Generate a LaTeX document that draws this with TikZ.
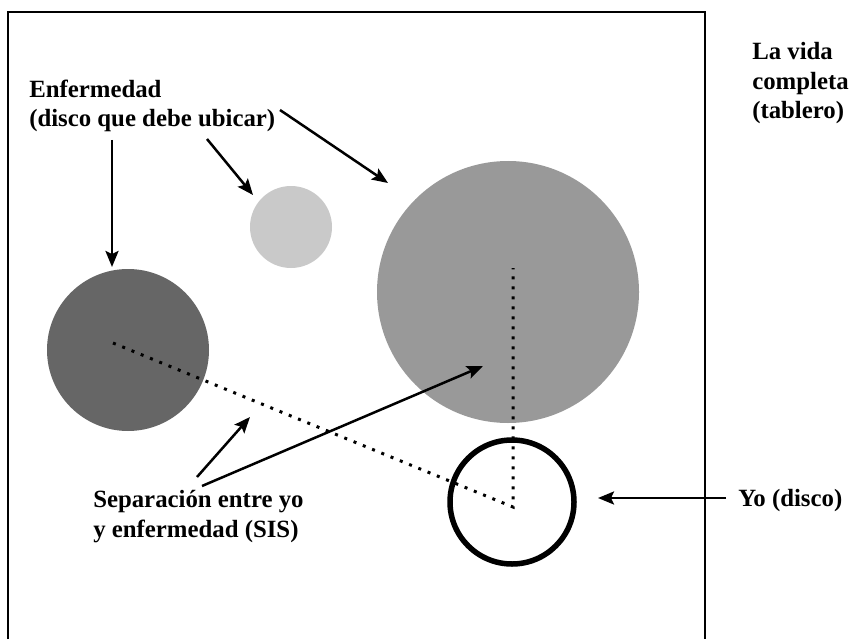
\documentclass[tikz,border=0pt]{standalone}
\usepackage{fontspec}
\setmainfont{Liberation Serif}
\usetikzlibrary{arrows.meta}
\definecolor{discoosc}{gray}{0.40}
\definecolor{discoclaro}{gray}{0.79}
\definecolor{discomed}{gray}{0.60}

\begin{document}
\begin{tikzpicture}[x=1pt, y=-1pt, ->, >={Stealth[length=16pt, width=13pt, inset=3pt]}, line width=2.5pt, lbl/.style={font=\bfseries\fontsize{24.8}{29.5}\selectfont, inner sep=0pt, align=left, anchor=base west}, disco/.style={circle, draw=none, inner sep=0pt, minimum size=#1}, sepline/.style={-, line width=3pt, dash pattern=on 3pt off 7pt}]
		\useasboundingbox (0,0) rectangle (850,639);
		\draw[-, line width=2.5pt] (8,639) -- (8,12) -- (705,12) -- (705,639);
		% discos
		\node[disco=162, fill=discoosc] (enf) at (128,350) {};
		\node[disco=82, fill=discoclaro] (enfa) at (291,227) {};
		\node[disco=262, fill=discomed] (enfb) at (508,292) {};
		\node[disco=124, draw, line width=5.5pt] (yo) at (512,502) {};
		% textos (base = ultima linea)
		\node[lbl] (enfl) at (28,127) {Enfermedad\\(disco que debe ubicar)};
		\node[lbl] (vida) at (751,119) {La vida\\completa\\(tablero)};
		\node[lbl] (sis) at (92,537) {Separación entre yo\\y enfermedad (SIS)};
		\node[lbl] (yol) at (737,506) {Yo (disco)};
		% SIS
		\coordinate (p0) at (113,343);
		\coordinate (p1) at (513,507);
		\coordinate (p2) at (513,268);
		\draw[sepline] (p0) -- (p1) -- (p2);
		% flechas
		\coordinate (a0) at (112,140);
		\coordinate (a1) at (112,267);
		\coordinate (b0) at (207,139);
		\coordinate (b1) at (253,195);
		\coordinate (c0) at (280,110);
		\coordinate (c1) at (388,183);
		\coordinate (d0) at (197,477);
		\coordinate (d1) at (250,417);
		\coordinate (e0) at (202,486);
		\coordinate (e1) at (483,366);
		\coordinate (f0) at (726,498);
		\coordinate (f1) at (598,498);
		\draw (a0) -- (a1);
		\draw (b0) -- (b1);
		\draw (c0) -- (c1);
		\draw (d0) -- (d1);
		\draw (e0) -- (e1);
		\draw (f0) -- (f1);
	\end{tikzpicture}
\end{document}
